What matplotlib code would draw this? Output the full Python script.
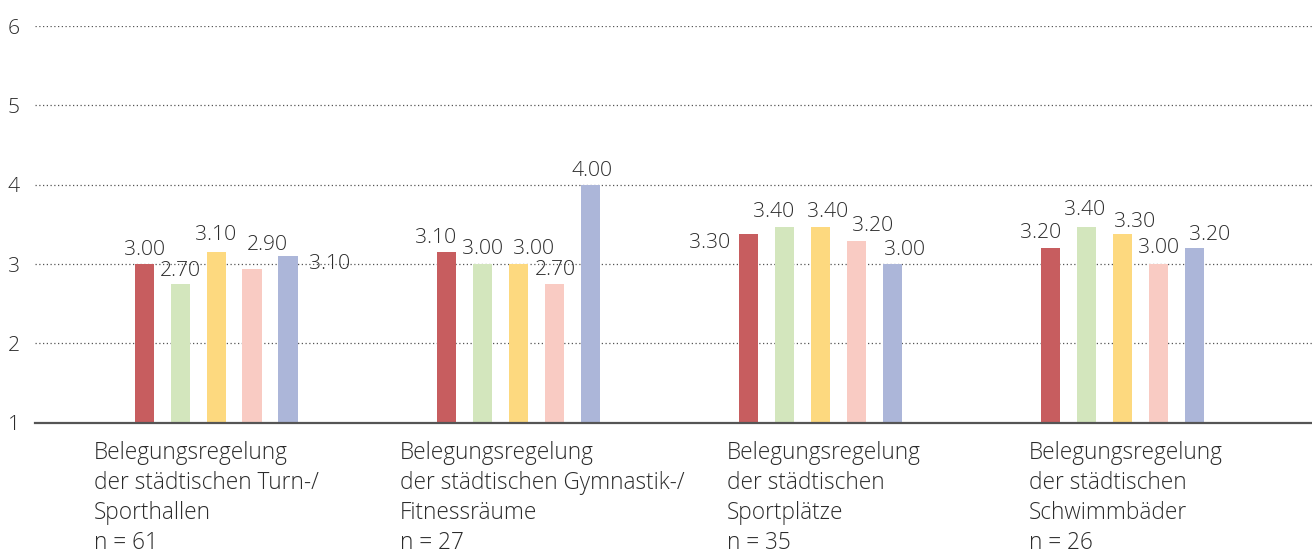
"""Bewertung der Belegungsregelungen - grouped bar chart."""

import matplotlib

matplotlib.use("Agg")
import matplotlib.pyplot as plt
import matplotlib.transforms as mtransforms
import numpy as np

categories = [
    "Belegungsregelung\nder städtischen Turn-/\nSporthallen\nn = 61",
    "Belegungsregelung\nder städtischen Gymnastik-/\nFitnessräume\nn = 27",
    "Belegungsregelung\nder städtischen\nSportplätze\nn = 35",
    "Belegungsregelung\nder städtischen\nSchwimmbäder\nn = 26",
]

# bar heights (unrounded), printed labels separately
series_1 = [3.00, 3.15, 3.38, 3.20]
series_2 = [2.75, 3.00, 3.47, 3.47]
series_3 = [3.15, 3.00, 3.47, 3.38]
series_4 = [2.94, 2.75, 3.29, 3.00]
series_5 = [3.10, 4.00, 3.00, 3.20]

labels_1 = ["3.00", "3.10", "3.30", "3.20"]
labels_2 = ["2.70", "3.00", "3.40", "3.40"]
labels_3 = ["3.10", "3.00", "3.40", "3.30"]
labels_4 = ["2.90", "2.70", "3.20", "3.00"]
labels_5 = ["3.10", "4.00", "3.00", "3.20"]

colors = ["#c75d5f", "#d3e6bd", "#fdd97f", "#f9cbc3", "#acb6d9"]
TEXT = "#2b2b2b"

plt.rcParams["font.family"] = ["Open Sans", "DejaVu Sans"]

series = [series_1, series_2, series_3, series_4, series_5]
labels = [labels_1, labels_2, labels_3, labels_4, labels_5]

# label nudges in pixels (dx, dy above bar top) to avoid collisions,
# plus two labels that sit beside their bar
nudge = {
    (0, 0): (0, 9), (1, 0): (0, 8), (2, 0): (0, 12), (3, 0): (15, 19),
    (0, 1): (-11, 9), (1, 1): (0, 10), (2, 1): (15, 10), (3, 1): (1.5, 9),
    (4, 1): (2, 9), (1, 2): (-11, 10), (2, 2): (7, 10), (3, 2): (16, 10),
    (4, 2): (12, 9), (0, 3): (-10, 10), (1, 3): (-2, 12), (2, 3): (12, 7),
    (3, 3): (0, 11), (4, 3): (14.5, 8),
}
beside = {(4, 0): ("right", 11, -8), (0, 2): ("left", -9, -9)}

PX = 72 / 100  # points per pixel
fs_val = 15.2

fig = plt.figure(figsize=(13.12, 5.56), dpi=100)
ax = fig.add_axes([35 / 1312, 0.2397, 1 - 35 / 1312, 0.7132])

x = np.arange(len(categories))
width = 0.063
step = 0.119

for i, (vals, labs) in enumerate(zip(series, labels)):
    xs = x + (i - 2) * step
    ax.bar(xs, vals, width=width, bottom=0, color=colors[i], zorder=3)
    for j, (xv, v, lab) in enumerate(zip(xs, vals, labs)):
        if (i, j) in beside:
            side, dx, dy = beside[(i, j)]
            edge = xv + width / 2 if side == "right" else xv - width / 2
            ax.annotate(lab, (edge, v), xytext=(dx * PX, dy * PX),
                        textcoords="offset points",
                        ha="left" if side == "right" else "right",
                        va="center", fontsize=fs_val, color=TEXT,
                        fontweight="light")
        else:
            dx, dy = nudge.get((i, j), (0, 9))
            ax.annotate(lab, (xv, v), xytext=(dx * PX, dy * PX),
                        textcoords="offset points", ha="center",
                        va="baseline", fontsize=fs_val, color=TEXT,
                        fontweight="light")

ax.set_ylim(1, 6)
ax.set_xlim(-0.599, 3.626)
ax.set_yticks([1, 2, 3, 4, 5, 6])
ax.set_xticks([])
ax.tick_params(axis="y", length=0, pad=11, labelsize=fs_val, labelcolor=TEXT)
for t in ax.get_yticklabels():
    t.set_fontweight("light")
ax.yaxis.grid(True, linestyle=(0, (1, 2)), color="#555555", linewidth=0.9,
              zorder=1)

for side in ["top", "right", "left"]:
    ax.spines[side].set_visible(False)
ax.spines["bottom"].set_color("#555555")
ax.spines["bottom"].set_linewidth(1.6)
ax.spines["bottom"].set_zorder(4)

# category labels, left-aligned blocks under each group
label_offsets = [-0.405, -0.393, -0.310, -0.310]
trans = mtransforms.blended_transform_factory(ax.transData, ax.transAxes)
for xi, cat, off in zip(x, categories, label_offsets):
    ax.text(xi + off, -0.046, cat, transform=trans, ha="left", va="top",
            fontsize=16.3, color=TEXT, linespacing=1.33, fontweight="light")

fig.savefig("out.png", dpi=100)
